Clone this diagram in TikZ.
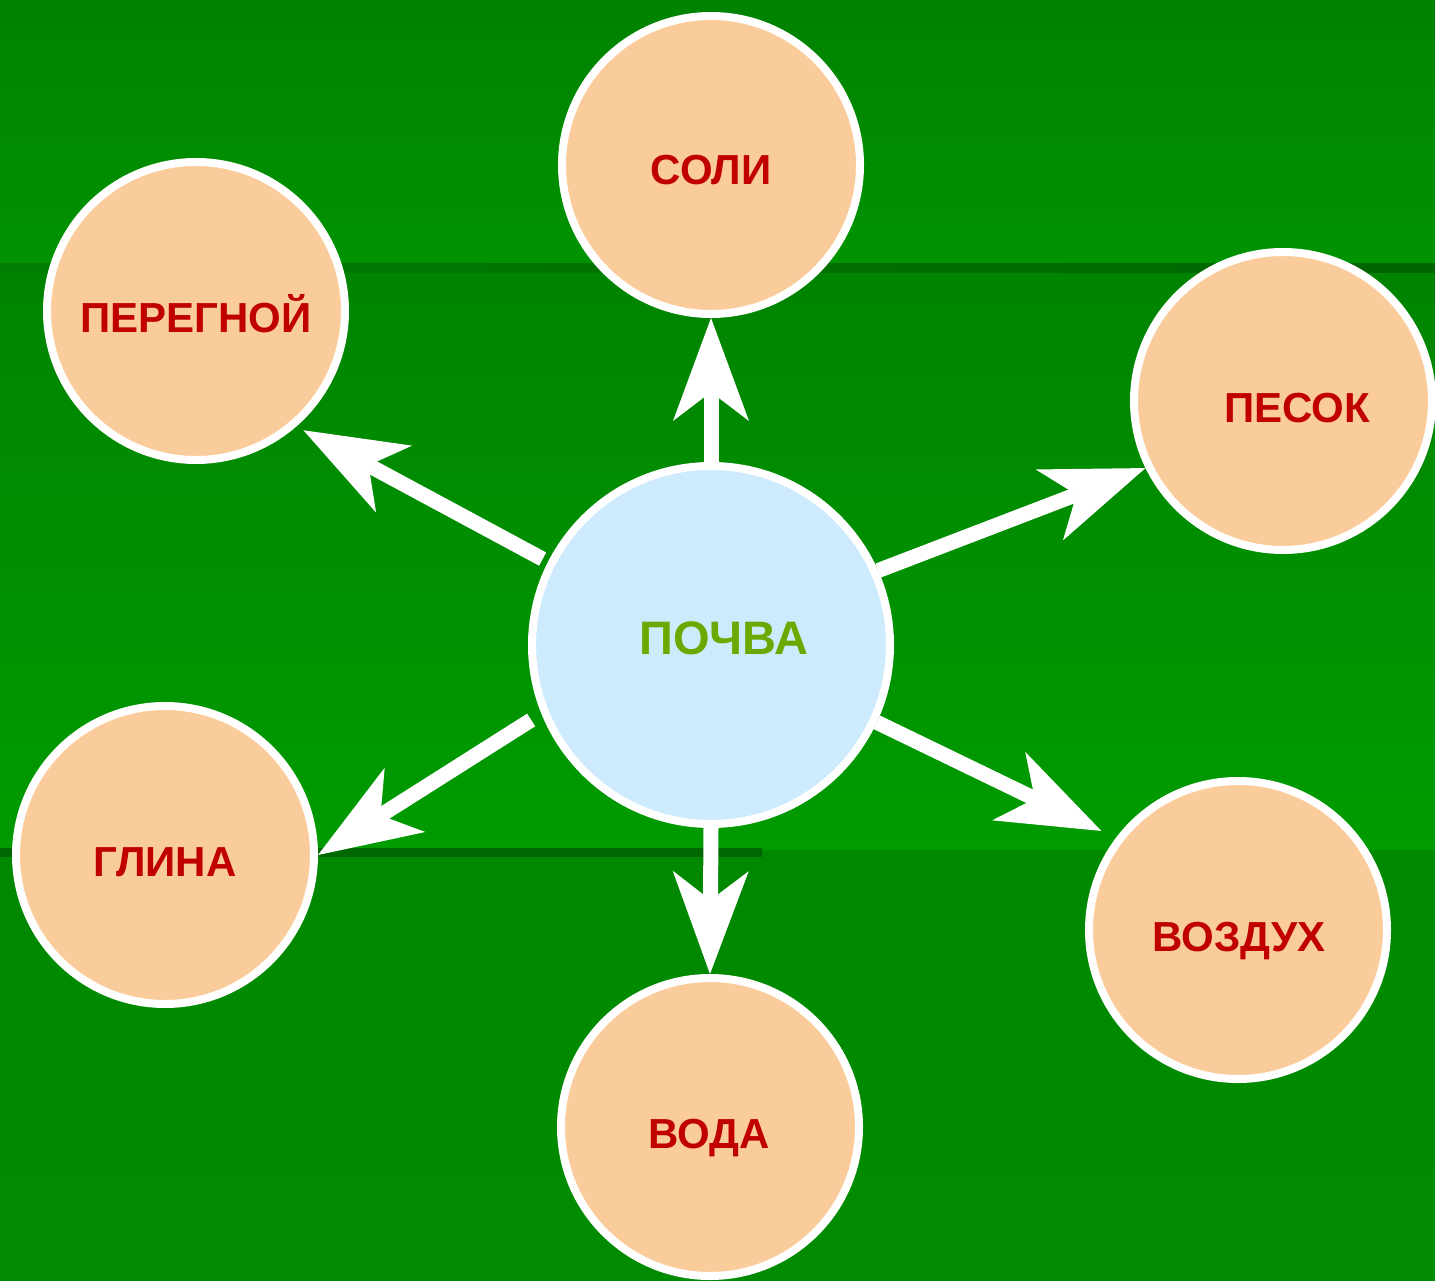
\documentclass[tikz,border=0pt]{standalone}
\usepackage{fontspec}
\setmainfont{Liberation Sans}
\usetikzlibrary{arrows.meta}
\definecolor{peach}{HTML}{FBCC9B}
\definecolor{skyb}{HTML}{CDEBFD}
\definecolor{redt}{HTML}{C00000}
\definecolor{greent}{HTML}{6AAA00}
\definecolor{bgA}{HTML}{008200}
\definecolor{bgB}{HTML}{009300}
\definecolor{bgC}{HTML}{008300}
\definecolor{bgD}{HTML}{009B00}
\definecolor{bgE}{HTML}{008900}
\definecolor{bgF}{HTML}{008B00}
\definecolor{lnA}{HTML}{007D00}
\definecolor{lnB}{HTML}{006400}
\definecolor{lnC}{HTML}{006800}
\begin{document}
\begin{tikzpicture}[x=1pt,y=-1pt,
  leaf/.style={circle, draw=white, line width=8pt, fill=peach, minimum size=298pt, inner sep=0pt},
  hub/.style={circle, draw=white, line width=8pt, fill=skyb, minimum size=358pt, inner sep=0pt},
  lbl/.style={anchor=base, text=redt, font=\fontsize{42}{48}\selectfont\bfseries, inner sep=0pt},
  arr/.style={draw=white, line width=15pt, -{Stealth[length=103pt,width=76pt,inset=29pt,line width=0pt]}}]
\useasboundingbox (0,0) rectangle (1435,1281);
% background bands
\fill[top color=bgA, bottom color=bgB] (0,0) rectangle (1435,266);
\fill[top color=bgC, bottom color=bgD] (0,266) rectangle (1435,850);
\fill[top color=bgE, bottom color=bgF] (0,850) rectangle (1435,1281);
\fill[left color=lnA, right color=lnB] (0,264) rectangle (1435,273);
\fill[lnC] (0,848) rectangle (762,857);
% circles
\node[hub] (c) at (711,645) {};
\node[leaf] (soli) at (711,165) {};
\node[leaf] (per) at (196,311) {};
\node[leaf] (pes) at (1283,401) {};
\node[leaf] (gl) at (165,855) {};
\node[leaf] (voda) at (710,1127) {};
\node[leaf] (voz) at (1238,930) {};
% labels
\node[lbl] (t1) at (711,185) {СОЛИ};
\node[lbl] (t2) at (196,332) {ПЕРЕГНОЙ};
\node[lbl] (t3) at (1297,422) {ПЕСОК};
\node[lbl, text=greent, font=\fontsize{47}{54}\selectfont\bfseries] (t0) at (724,654) {ПОЧВА};
\node[lbl] (t4) at (165,876) {ГЛИНА};
\node[lbl] (t5) at (709,1148) {ВОДА};
\node[lbl] (t6) at (1239,951) {ВОЗДУХ};
% arrows
\draw[arr] (c.90) -- (soli.-90);
\draw[arr, shorten <=6pt, shorten >=8pt] (c.153) -- (per.-49);
\draw[arr] (c.24) -- (pes.-154);
\draw[arr, shorten <=12pt] (c.202) -- (gl.0);
\draw[arr] (c.-90) -- (voda.90);
\draw[arr, shorten >=16pt] (c.-25) -- (voz.143);
\end{tikzpicture}
\end{document}
